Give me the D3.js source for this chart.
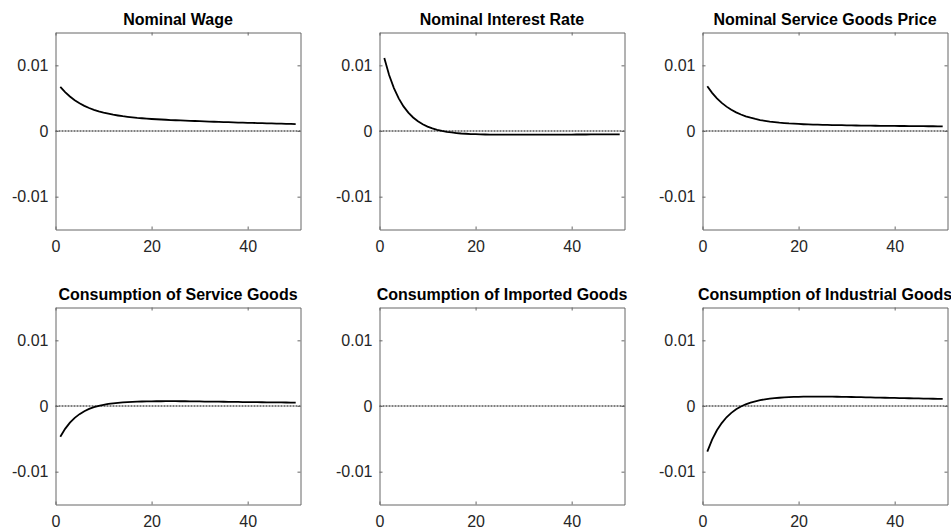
<!DOCTYPE html>
<html>
<head>
<meta charset="utf-8">
<script src="https://d3js.org/d3.v7.min.js"></script>
<style>
body { margin: 0; background: #fff; }
svg { display: block; font-family: "Liberation Sans", Arial, Helvetica, sans-serif; }
</style>
</head>
<body>
<svg id="chart" width="951" height="529"></svg>
<script>
// impulse responses, periods 1..50
var nominalWage = [
  0.00672, 0.00592, 0.00525, 0.00468, 0.00422, 0.00383, 0.00350, 0.00323, 0.00299, 0.00279,
  0.00263, 0.00248, 0.00236, 0.00225, 0.00216, 0.00208, 0.00200, 0.00194, 0.00188, 0.00183,
  0.00179, 0.00175, 0.00171, 0.00167, 0.00164, 0.00161, 0.00158, 0.00155, 0.00152, 0.00149,
  0.00146, 0.00143, 0.00141, 0.00138, 0.00136, 0.00134, 0.00131, 0.00129, 0.00127, 0.00125,
  0.00123, 0.00121, 0.00119, 0.00117, 0.00115, 0.00113, 0.00111, 0.00110, 0.00108, 0.00106];
var nominalInterestRate = [
  0.01110, 0.00853, 0.00653, 0.00497, 0.00375, 0.00280, 0.00206, 0.00148, 0.00102, 0.00067,
  0.00039, 0.00018, 0.000005, -0.000125, -0.000225, -0.00031, -0.00038, -0.00042, -0.000465, -0.00049,
  -0.000515, -0.00053, -0.000545, -0.000555, -0.00056, -0.000565, -0.000565, -0.000565, -0.000565, -0.00056,
  -0.00056, -0.00056, -0.000555, -0.000555, -0.00055, -0.00055, -0.000545, -0.000545, -0.00054, -0.00054,
  -0.000535, -0.00053, -0.00053, -0.000525, -0.00052, -0.00052, -0.000515, -0.00051, -0.000505, -0.0005];
var nominalServicePrice = [
  0.00682, 0.00581, 0.00497, 0.00428, 0.00371, 0.00323, 0.00284, 0.00251, 0.00224, 0.00202,
  0.00183, 0.00167, 0.00155, 0.00144, 0.00135, 0.00127, 0.00121, 0.00115, 0.00111, 0.00107,
  0.00103, 0.00100, 0.00097, 0.00096, 0.00094, 0.00092, 0.00090, 0.00089, 0.00088, 0.00086,
  0.00085, 0.00084, 0.00083, 0.00082, 0.00081, 0.00080, 0.00079, 0.00078, 0.00078, 0.00077,
  0.00076, 0.00076, 0.00075, 0.00074, 0.00073, 0.00073, 0.00072, 0.00072, 0.00071, 0.00070];
var consServiceGoods = [
  -0.00468, -0.00348, -0.00254, -0.00181, -0.00124, -0.00080, -0.00045, -0.000185, 0.000024, 0.000187,
  0.000314, 0.000413, 0.00049, 0.00055, 0.000596, 0.000632, 0.00066, 0.000682, 0.0007, 0.000713,
  0.00072, 0.000725, 0.000728, 0.00073, 0.00073, 0.000725, 0.00072, 0.00071, 0.0007, 0.00069,
  0.00068, 0.000675, 0.000665, 0.000655, 0.000645, 0.000635, 0.000625, 0.000615, 0.000605, 0.000595,
  0.00059, 0.00058, 0.00057, 0.000565, 0.000555, 0.00055, 0.00054, 0.00053, 0.00052, 0.000515];
var consImportedGoods = []; // nothing drawn in this panel
var consIndustrialGoods = [
  -0.00694, -0.00513, -0.00370, -0.00260, -0.00172, -0.00104, -0.00049, -0.00008, 0.00026, 0.00052,
  0.00072, 0.000885, 0.00101, 0.00111, 0.00119, 0.001255, 0.001305, 0.001345, 0.001375, 0.0014,
  0.00142, 0.001435, 0.00144, 0.00144, 0.001435, 0.00143, 0.00142, 0.00141, 0.0014, 0.001385,
  0.00137, 0.001355, 0.00134, 0.001325, 0.00131, 0.00129, 0.001275, 0.00126, 0.00124, 0.001225,
  0.00121, 0.001195, 0.00118, 0.001165, 0.00115, 0.001135, 0.00112, 0.001105, 0.00109, 0.001075];

var panelTitles = ["Nominal Wage", "Nominal Interest Rate", "Nominal Service Goods Price",
  "Consumption of Service Goods", "Consumption of Imported Goods", "Consumption of Industrial Goods"];
var panelSeries = [nominalWage, nominalInterestRate, nominalServicePrice,
  consServiceGoods, consImportedGoods, consIndustrialGoods];
var xTicks = [0, 20, 40];
var yTicks = [-0.01, 0, 0.01];
var yTickLabels = ["-0.01", "0", "0.01"];
var xDomain = [0, 51];
var yDomain = [-0.015, 0.015];

var svg = d3.select("#chart");
var colLeft = [55.5, 379.5, 702.5];
var rowTop = [32.5, 307.5];
var pw = 245, ph = 197;
var axisColor = "#666";

panelSeries.forEach(function(series, k) {
  var left = colLeft[k % 3], top = rowTop[Math.floor(k / 3)];
  var x = d3.scaleLinear().domain(xDomain).range([left, left + pw]);
  var y = d3.scaleLinear().domain(yDomain).range([top + ph, top]);
  var g = svg.append("g");

  // zero line, dotted
  g.append("line")
    .attr("x1", x(xDomain[0])).attr("x2", x(xDomain[1]))
    .attr("y1", y(0)).attr("y2", y(0))
    .attr("stroke", "#000")
    .attr("stroke-width", 1)
    .attr("stroke-dasharray", "2,1");

  if (series.length) {
    var line = d3.line()
      .x(function(d, i) { return x(i + 1); })
      .y(function(d) { return y(d); });
    g.append("path")
      .datum(series)
      .attr("fill", "none")
      .attr("stroke", "#000")
      .attr("stroke-width", 1.8)
      .attr("d", line);
  }

  // box axes, ticks inside
  var bottom = g.append("g").attr("transform", "translate(0," + (top + ph) + ")")
    .call(d3.axisBottom(x).tickValues(xTicks).tickSizeInner(-3).tickSizeOuter(0).tickPadding(11));
  var topAx = g.append("g").attr("transform", "translate(0," + top + ")")
    .call(d3.axisTop(x).tickValues(xTicks).tickSizeInner(-3).tickSizeOuter(0).tickFormat(""));
  var leftAx = g.append("g").attr("transform", "translate(" + left + ",0)")
    .call(d3.axisLeft(y).tickValues(yTicks).tickSizeInner(-3).tickSizeOuter(0).tickPadding(7)
      .tickFormat(function(d, i) { return yTickLabels[i]; }));
  var rightAx = g.append("g").attr("transform", "translate(" + (left + pw) + ",0)")
    .call(d3.axisRight(y).tickValues(yTicks).tickSizeInner(-3).tickSizeOuter(0).tickFormat(""));

  [bottom, topAx, leftAx, rightAx].forEach(function(a) {
    a.select(".domain").attr("stroke", axisColor);
    a.selectAll(".tick line").attr("stroke", axisColor);
    a.selectAll(".tick text")
      .attr("fill", "#262626")
      .style("font-size", "16px")
      .style("font-family", "'Liberation Sans', Arial, Helvetica, sans-serif");
  });

  g.append("text")
    .attr("x", left + pw / 2)
    .attr("y", top - 7.5)
    .attr("text-anchor", "middle")
    .style("font-size", "16px")
    .style("font-weight", "bold")
    .attr("fill", "#000")
    .text(panelTitles[k]);
});
</script>
</body>
</html>
